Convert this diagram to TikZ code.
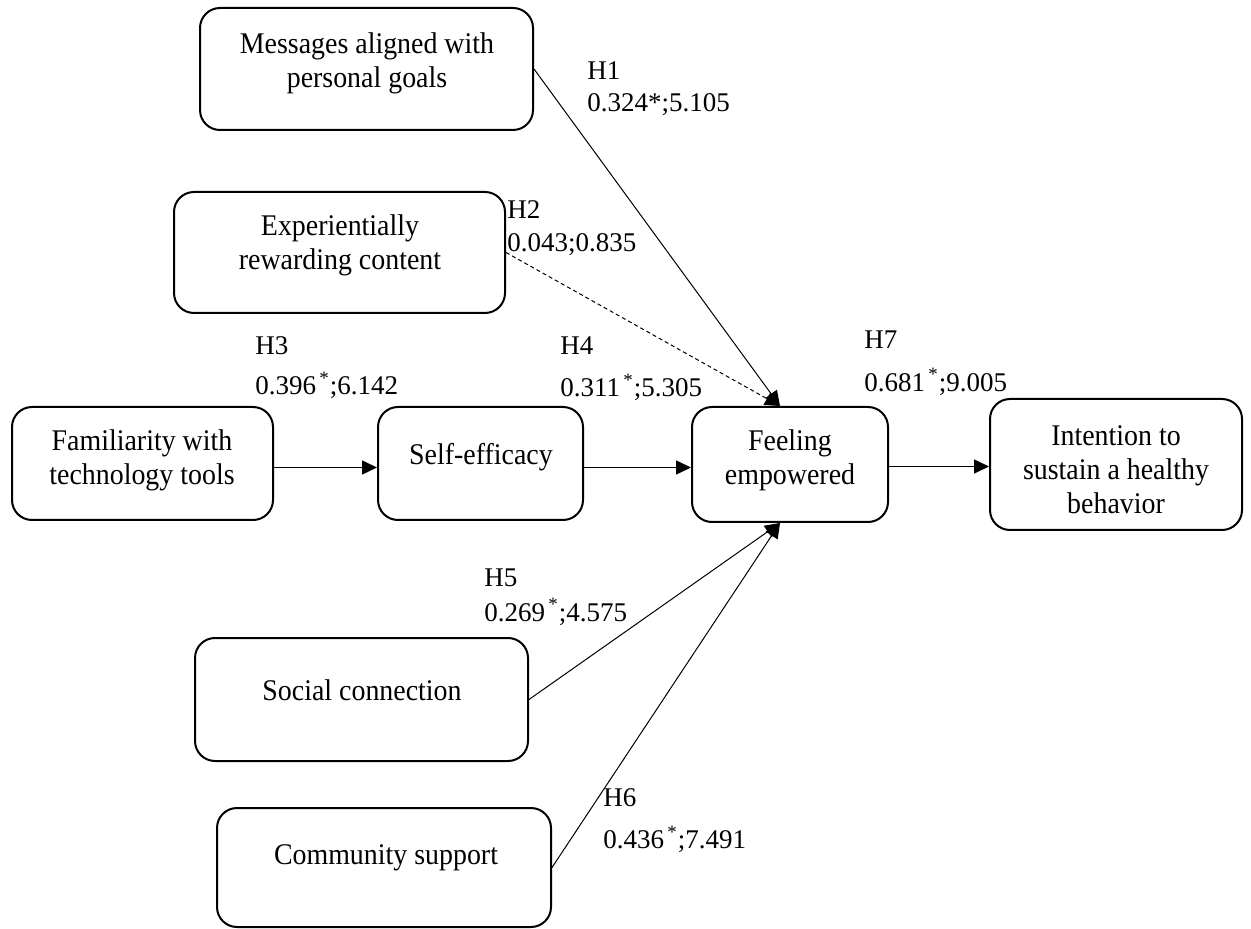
\documentclass[tikz,border=0pt]{standalone}
\usepackage{fontspec}
\setmainfont{Liberation Serif}
\newfontfamily\boxfont{Liberation Serif}[FakeStretch=0.93]
\usetikzlibrary{arrows.meta}

\begin{document}
\begin{tikzpicture}[x=0.5pt,y=-0.5pt,
		box/.style={draw,line width=1pt,rounded corners=10pt,inner sep=0pt},
		txt/.style={align=center,inner sep=0pt,font=\boxfont\fontsize{15pt}{17pt}\selectfont},
		hyp/.style={align=left,anchor=west,inner sep=0pt,font=\fontsize{13.5pt}{16pt}\selectfont},
		link/.style={-{Triangle[length=7.5pt,width=7pt]},line width=0.5pt}]
			\useasboundingbox (0,0) rectangle (1251,929);
			% boxes
			\node [box,minimum width=166.5pt,minimum height=61pt] (msg) at (366.5,69) {};
			\node [box,minimum width=165.5pt,minimum height=60.5pt] (exp) at (339.5,252.5) {};
			\node [box,minimum width=130.5pt,minimum height=56.5pt] (fam) at (142.5,463.5) {};
			\node [box,minimum width=102.5pt,minimum height=56.5pt] (se) at (480.5,463.5) {};
			\node [box,minimum width=98pt,minimum height=57.5pt] (fe) at (790,464.5) {};
			\node [box,minimum width=126pt,minimum height=65.5pt] (int) at (1116,464.5) {};
			\node [box,minimum width=166.5pt,minimum height=61.5pt] (soc) at (361.5,699.5) {};
			\node [box,minimum width=167pt,minimum height=59.5pt] (com) at (384,867.5) {};
			% box texts
			\node [txt] (msgT) at (367,63) {Messages aligned with\\personal goals};
			\node [txt] (expT) at (340,245) {Experientially\\rewarding content};
			\node [txt] (famT) at (142,460) {Familiarity with\\technology tools};
			\node [txt] (seT) at (481,457) {Self-efficacy};
			\node [txt] (feT) at (790,460) {Feeling\\empowered};
			\node [txt] (intT) at (1116,470) {Intention to\\sustain a healthy\\behavior};
			\node [txt] (socT) at (362,690) {Social connection};
			\node [txt] (comT) at (386,858) {Community support};
			% ends of the converging arrows
			\coordinate (feTop) at ([xshift=-5pt]fe.north);
			\coordinate (feBot) at ([xshift=-5pt]fe.south);
			% arrows
			\draw [link] (msg.east) -- (feTop);
			\draw [link,dash pattern=on 2pt off 1.5pt] (exp.east) -- (feTop);
			\draw [link,line width=0.75pt] ([yshift=-2pt]fam.east) -- ([yshift=-2pt]fam.east -| se.west);
			\draw [link,line width=0.75pt] ([yshift=-2pt]se.east) -- ([yshift=-2pt]se.east -| fe.west);
			\draw [link,line width=0.75pt] ([yshift=-1pt]fe.east) -- ([yshift=-1pt]fe.east -| int.west);
			\draw [link] (soc.east) -- (feBot);
			\draw [link] (com.east) -- (feBot);
			% path coefficients
			\node [hyp] (h1) at (587,89) {H1\\0.324*;5.105};
			\node [hyp] (h2) at (507,228) {H2\\[0.5pt]0.043;0.835};
			\node [hyp] (h3) at (255,368) {H3\\[4pt]0.396\textsuperscript{\,*};6.142};
			\node [hyp] (h4) at (560,369) {H4\\[5pt]0.311\textsuperscript{\,*};5.305};
			\node [hyp] (h5) at (484,597) {H5\\[1.5pt]0.269\textsuperscript{\,*};4.575};
			\node [hyp] (h6) at (603,821) {H6\\[5pt]0.436\textsuperscript{\,*};7.491};
			\node [hyp] (h7) at (864,363) {H7\\[5.5pt]0.681\textsuperscript{\,*};9.005};
		\end{tikzpicture}
\end{document}
